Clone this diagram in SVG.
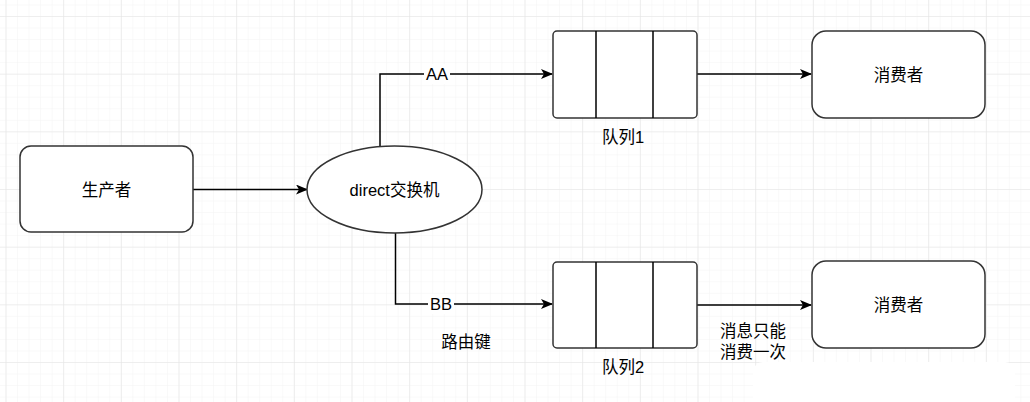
<svg xmlns="http://www.w3.org/2000/svg" width="1030" height="402" viewBox="0 0 1030 402">
<defs>
<pattern id="minor" x="5.5" y="4.47" width="11.533" height="11.533" patternUnits="userSpaceOnUse">
<path d="M0 0V11.533M0 0H11.533" fill="none" stroke="#f3f3f3" stroke-width="1"/>
</pattern>
<pattern id="major" x="5.5" y="16" width="57.667" height="57.667" patternUnits="userSpaceOnUse">
<path d="M0 0V57.667M0 0H57.667" fill="none" stroke="#e4e4e4" stroke-width="1.2"/>
</pattern>
<marker id="arrow" viewBox="0 0 12 10" refX="11" refY="5" markerWidth="12" markerHeight="10" markerUnits="userSpaceOnUse" orient="auto">
<path d="M0 0L12 5L0 10L3 5Z" fill="#000"/>
</marker>
<style>
.node{fill:#fff;stroke:#333;stroke-width:1.5}
.edge{fill:none;stroke:#000;stroke-width:1.5;marker-end:url(#arrow)}
.line{fill:none;stroke:#000;stroke-width:1.5}
.t{font-family:"Liberation Sans","Noto Sans CJK SC",sans-serif;font-size:16.5px;fill:#000;text-anchor:middle;dominant-baseline:central}
</style>
</defs>
<rect width="1030" height="402" fill="#fff"/>
<rect width="1030" height="402" fill="url(#minor)"/>
<rect width="1030" height="402" fill="url(#major)"/>
<rect x="753" y="362" width="262" height="50" rx="10" fill="#fff"/>

<g id="connectors">
<path class="edge" d="M193 189.5H307"/>
<path class="edge" d="M380 146V74H552"/>
<path class="edge" d="M395.5 233V304H552"/>
<path class="edge" d="M697 74H811"/>
<path class="edge" d="M697 305H811"/>
<rect x="424" y="64" width="26" height="20" fill="#fff"/>
<text class="t" x="437" y="74">AA</text>
<rect x="428" y="294" width="26" height="20" fill="#fff"/>
<text class="t" x="441" y="304">BB</text>
</g>

<g id="producer">
<rect class="node" x="20" y="146" width="173" height="86" rx="11"/>
<text class="t" x="106.5" y="190">生产者</text>
</g>

<g id="exchange">
<ellipse class="node" cx="394.5" cy="189.5" rx="87.5" ry="43.5"/>
<text class="t" x="394.5" y="190">direct交换机</text>
</g>

<g id="queue1">
<rect class="node" x="553" y="31" width="144" height="87" rx="4"/>
<path class="line" d="M596 31V118M653 31V118"/>
<text class="t" x="623" y="137">队列1</text>
</g>

<g id="queue2">
<rect class="node" x="553" y="262" width="144" height="86" rx="4"/>
<path class="line" d="M596 262V348M653 262V348"/>
<text class="t" x="623" y="367">队列2</text>
</g>

<g id="consumer1">
<rect class="node" x="812" y="31" width="173" height="87" rx="14"/>
<text class="t" x="898.5" y="75">消费者</text>
</g>

<g id="consumer2">
<rect class="node" x="812" y="261" width="173" height="87" rx="14"/>
<text class="t" x="898.5" y="305">消费者</text>
</g>

<g id="labels">
<text class="t" x="466" y="342">路由键</text>
<text class="t" x="753" y="331">消息只能</text>
<text class="t" x="753" y="352">消费一次</text>
</g>
</svg>
